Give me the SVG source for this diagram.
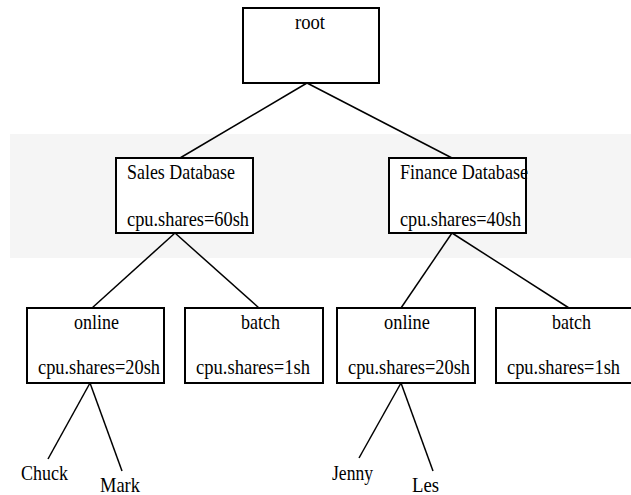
<svg xmlns="http://www.w3.org/2000/svg" width="631" height="495" viewBox="0 0 631 495">
  <style>
    .box { fill: #ffffff; stroke: #000000; stroke-width: 2; }
    .edge { stroke: #000000; stroke-width: 1.5; fill: none; }
    .lbl { font-family: "Liberation Serif", "Times New Roman", serif; font-size: 21px; fill: #000000; }
  </style>

  <!-- shaded band behind the database tier -->
  <rect x="10" y="134" width="621" height="124" fill="#f5f5f5"/>

  <g id="connectors">
    <line class="edge" x1="307" y1="83" x2="180" y2="158"/>
    <line class="edge" x1="307" y1="83" x2="452" y2="158"/>
    <line class="edge" x1="175" y1="233" x2="92" y2="308"/>
    <line class="edge" x1="175" y1="233" x2="259" y2="308"/>
    <line class="edge" x1="452" y1="233" x2="401" y2="308"/>
    <line class="edge" x1="452" y1="233" x2="569" y2="308"/>
    <line class="edge" x1="90" y1="383" x2="48" y2="459"/>
    <line class="edge" x1="90" y1="383" x2="122" y2="471"/>
    <line class="edge" x1="401" y1="383" x2="359" y2="458"/>
    <line class="edge" x1="401" y1="383" x2="433" y2="471"/>
  </g>

  <g id="root">
    <rect class="box" x="243" y="8" width="136" height="75"/>
    <text class="lbl" x="295" y="29" textLength="30" lengthAdjust="spacingAndGlyphs">root</text>
  </g>

  <g id="sales-db">
    <rect class="box" x="116" y="158" width="137" height="75"/>
    <text class="lbl" x="127" y="179" textLength="108" lengthAdjust="spacingAndGlyphs">Sales Database</text>
    <text class="lbl" x="127" y="226" textLength="122" lengthAdjust="spacingAndGlyphs">cpu.shares=60sh</text>
  </g>

  <g id="finance-db">
    <rect class="box" x="389" y="158" width="137" height="75"/>
    <text class="lbl" x="400" y="179" textLength="128" lengthAdjust="spacingAndGlyphs">Finance Database</text>
    <text class="lbl" x="400" y="226" textLength="121" lengthAdjust="spacingAndGlyphs">cpu.shares=40sh</text>
  </g>

  <g id="sales-online">
    <rect class="box" x="27" y="308" width="137" height="75"/>
    <text class="lbl" x="74" y="329" textLength="45" lengthAdjust="spacingAndGlyphs">online</text>
    <text class="lbl" x="38" y="374" textLength="122" lengthAdjust="spacingAndGlyphs">cpu.shares=20sh</text>
  </g>

  <g id="sales-batch">
    <rect class="box" x="185" y="308" width="138" height="75"/>
    <text class="lbl" x="241" y="329" textLength="39" lengthAdjust="spacingAndGlyphs">batch</text>
    <text class="lbl" x="196" y="374" textLength="114" lengthAdjust="spacingAndGlyphs">cpu.shares=1sh</text>
  </g>

  <g id="finance-online">
    <rect class="box" x="337" y="308" width="138" height="75"/>
    <text class="lbl" x="384" y="329" textLength="46" lengthAdjust="spacingAndGlyphs">online</text>
    <text class="lbl" x="348" y="374" textLength="122" lengthAdjust="spacingAndGlyphs">cpu.shares=20sh</text>
  </g>

  <g id="finance-batch">
    <rect class="box" x="496" y="308" width="140" height="75"/>
    <text class="lbl" x="552" y="329" textLength="39" lengthAdjust="spacingAndGlyphs">batch</text>
    <text class="lbl" x="507" y="374" textLength="113" lengthAdjust="spacingAndGlyphs">cpu.shares=1sh</text>
  </g>

  <g id="chuck">
    <text class="lbl" x="21" y="480" textLength="47" lengthAdjust="spacingAndGlyphs">Chuck</text>
  </g>
  <g id="mark">
    <text class="lbl" x="100" y="492" textLength="40" lengthAdjust="spacingAndGlyphs">Mark</text>
  </g>
  <g id="jenny">
    <text class="lbl" x="332" y="480" textLength="41" lengthAdjust="spacingAndGlyphs">Jenny</text>
  </g>
  <g id="les">
    <text class="lbl" x="412" y="492" textLength="27" lengthAdjust="spacingAndGlyphs">Les</text>
  </g>
</svg>
